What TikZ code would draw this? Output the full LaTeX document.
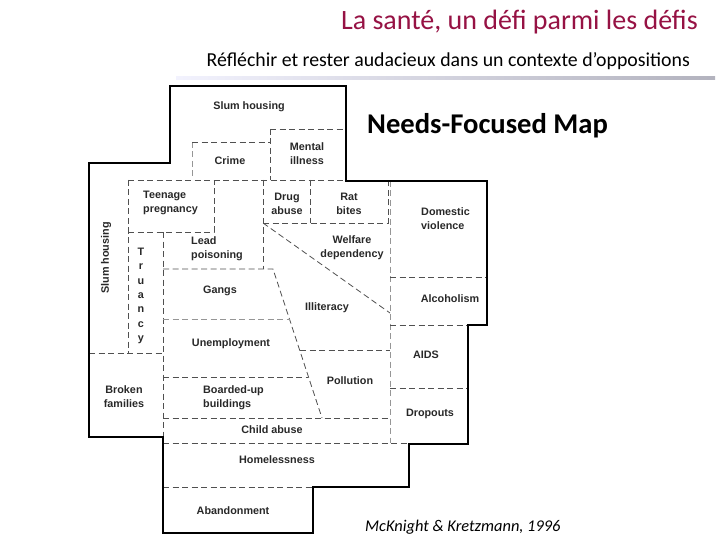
\documentclass[tikz,border=0pt]{standalone}
\usepackage{fontspec}
\setmainfont{Carlito}
\newfontfamily\mapfont{Liberation Sans}
\definecolor{titlered}{RGB}{150,18,68}
\definecolor{maptext}{RGB}{40,40,40}
\definecolor{dashgray}{RGB}{80,80,80}
\definecolor{lightdash}{RGB}{150,150,150}
\begin{document}
\begin{tikzpicture}[x=1pt,y=-1pt,
  outline/.style={line width=2.4pt,black,line join=miter},
  part/.style={dashgray,line width=0.8pt,dash pattern=on 6pt off 3.5pt},
  faint/.style={lightdash,line width=0.7pt,dash pattern=on 6pt off 3.5pt},
  lbl/.style={font=\mapfont\bfseries\fontsize{10.8}{14}\selectfont,text=maptext,align=center,inner sep=0pt},
  lbll/.style={lbl,align=left,anchor=west}]
\useasboundingbox (0,0) rectangle (720,540);
% header
\node[text=titlered,font=\fontsize{28}{32}\selectfont,anchor=east,inner sep=0pt] (title) at (698,22) {La santé, un défi parmi les défis};
\node[font=\fontsize{19.8}{22}\selectfont,anchor=east,inner sep=0pt] (subtitle) at (690,61) {Réfléchir et rester audacieux dans un contexte d’oppositions};
\shade[left color=black!10!blue!5!white,right color=black!85!blue!30] (176,76.5) rectangle (715,79.5);
\node[font=\bfseries\fontsize{28.6}{32}\selectfont,anchor=west,inner sep=0pt] (maptitle) at (367,126) {Needs-Focused Map};
\node[font=\itshape\fontsize{16.4}{20}\selectfont,anchor=west,inner sep=0pt] (cite) at (365,527) {McKnight \& Kretzmann, 1996};
% internal dashed partitions
\draw[faint] (192,142) -- (192,180);
\draw[part] (192,142) -- (270,142);
\draw[part] (270,129) -- (346,129);
\draw[part] (270,129) -- (270,180);
\draw[part] (128,180) -- (346,180);
\draw[part] (128,180) -- (128,353);
\draw[part] (128,232) -- (214,232) -- (214,180);
\draw[part] (163,232) -- (163,437);
\draw[part] (89,353) -- (163,353);
\draw[part] (263,180) -- (263,269);
\draw[part] (163,269) -- (273,269) -- (322,418);
\draw[part] (310,180) -- (310,223);
\draw[part] (263,223) -- (388,223) -- (388,180);
\draw[part] (263,223) -- (390,313);
\draw[faint] (390,181) -- (390,443);
\draw[part] (390,277) -- (487,277);
\draw[part] (390,325) -- (468,325);
\draw[part] (390,388) -- (468,388);
\draw[faint] (163,319) -- (290,319);
\draw[part] (163,377) -- (308,377);
\draw[part] (300,350) -- (390,350);
\draw[part] (163,418) -- (390,418);
\draw[part] (163,443) -- (409,443);
\draw[part] (163,487) -- (313,487);
% outline
\draw[outline] (170,86) -- (346,86) -- (346,181) -- (487,181) -- (487,325) -- (468,325) -- (468,444) -- (409,444) -- (409,487) -- (313,487) -- (313,533) -- (163,533) -- (163,437) -- (89,437) -- (89,163) -- (170,163) -- cycle;
% labels
\node[lbl] (slumtop) at (249,107) {Slum housing};
\node[lbl] (crime) at (230,161) {Crime};
\node[lbl] (mental) at (307,154) {Mental\\illness};
\node[lbll] (teen) at (143,203) {Teenage\\pregnancy};
\node[lbl] (drug) at (287,204) {Drug\\abuse};
\node[lbl] (rat) at (349,204) {Rat\\bites};
\node[lbll] (domestic) at (421,219) {Domestic\\violence};
\node[lbll] (lead) at (191,249) {Lead\\poisoning};
\node[lbl] (welfare) at (352,248) {Welfare\\dependency};
\node[lbl,rotate=90] (slumleft) at (106,258) {Slum housing};
\node[lbl,font=\mapfont\bfseries\fontsize{10.8}{14.3}\selectfont] (truancy) at (141,296) {T\\r\\u\\a\\n\\c\\y};
\node[lbl] (gangs) at (220,291) {Gangs};
\node[lbl] (illiteracy) at (327,308) {Illiteracy};
\node[lbl] (alcohol) at (450,299) {Alcoholism};
\node[lbl] (unemp) at (231,344) {Unemployment};
\node[lbl] (aids) at (426,355) {AIDS};
\node[lbl] (pollution) at (350,381) {Pollution};
\node[lbl] (broken) at (124,397) {Broken\\families};
\node[lbll] (boarded) at (203,398) {Boarded-up\\buildings};
\node[lbl] (dropouts) at (430,414) {Dropouts};
\node[lbl] (child) at (272,430) {Child abuse};
\node[lbl] (homeless) at (277,460) {Homelessness};
\node[lbl] (abandon) at (233,511) {Abandonment};
\end{tikzpicture}
\end{document}
